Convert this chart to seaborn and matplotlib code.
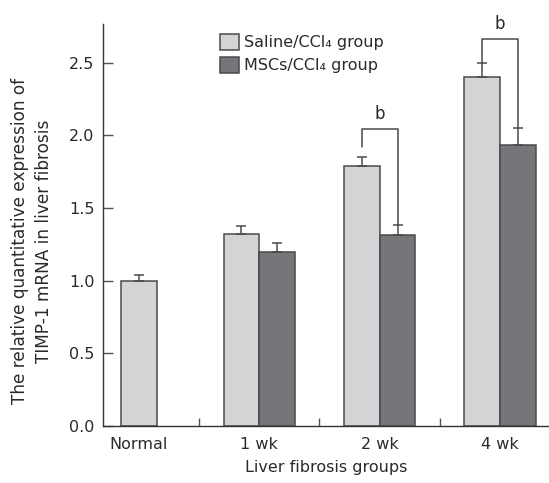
import numpy as np
import pandas as pd
import matplotlib
matplotlib.use("Agg")
import matplotlib.pyplot as plt
import seaborn as sns
from matplotlib.ticker import FixedLocator

# Group labels and series
groups = ["Normal", "1 wk", "2 wk", "4 wk"]
saline_mean = [1.00, 1.32, 1.79, 2.40]
saline_err = [0.04, 0.055, 0.06, 0.095]
msc_groups = ["1 wk", "2 wk", "4 wk"]
msc_mean = [1.195, 1.315, 1.935]
msc_err = [0.065, 0.07, 0.115]
series_names = ["Saline/CCl\u2084 group", "MSCs/CCl\u2084 group"]
y_ticks = [0.0, 0.5, 1.0, 1.5, 2.0, 2.5]

sns.set_theme(style="white")
plt.rcParams["font.family"] = ["DejaVu Sans"]

light = "#d3d4d6"
dark = "#75767a"
edge = "#4a4a4a"
txt = "#2a2a2a"

fig = plt.figure(figsize=(5.49, 4.83), dpi=100)
ax = fig.add_axes([0.1876, 0.118, 0.8124, 0.832])

# Paired bars for the CCl4 time points
df = pd.DataFrame({
    "group": groups[1:] + msc_groups,
    "value": saline_mean[1:] + msc_mean,
    "series": [series_names[0]] * 3 + [series_names[1]] * 3,
})
sns.barplot(data=df, x="group", y="value", hue="series", order=groups,
            hue_order=series_names, palette=[light, dark], width=0.594,
            gap=0, errorbar=None, edgecolor=edge, linewidth=1.1,
            saturation=1, ax=ax)

# Single control bar, centred on its category
df_n = pd.DataFrame({"group": ["Normal"], "value": [saline_mean[0]]})
sns.barplot(data=df_n, x="group", y="value", order=groups, color=light,
            width=0.297, errorbar=None, edgecolor=edge, linewidth=1.1,
            saturation=1, ax=ax)

# Error bars (upper only) on each bar
half = 0.297 / 2
sal_x = [0.0] + [i - half for i in range(1, 4)]
msc_x = [i + half for i in range(1, 4)]
ax.errorbar(sal_x, saline_mean, yerr=[np.zeros(4), saline_err], fmt="none",
            ecolor=edge, elinewidth=1.1, capsize=3.6, capthick=1.1, zorder=1)
ax.errorbar(msc_x, msc_mean, yerr=[np.zeros(3), msc_err], fmt="none",
            ecolor=edge, elinewidth=1.1, capsize=3.6, capthick=1.1, zorder=1)

# Significance brackets
def bracket(i, y_left, y_right, y_top):
    xl, xr = sal_x[i], msc_x[i - 1]
    ax.plot([xl, xl, xr, xr], [y_left, y_top, y_top, y_right],
            color=edge, lw=1.1, clip_on=False)
    ax.text((xl + xr) / 2, y_top + 0.04, "b", ha="center", va="bottom",
            fontsize=12, color=txt)

bracket(2, saline_mean[2] + saline_err[2] + 0.07, msc_mean[1] + msc_err[1], 2.045)
bracket(3, saline_mean[3] + saline_err[3], msc_mean[2] + msc_err[2], 2.665)

ax.set_xlim(-0.299, 3.407)
ax.set_ylim(0, 2.765)
ax.set_yticks(y_ticks)
ax.set_yticklabels([f"{t:.1f}" for t in y_ticks])
ax.xaxis.set_minor_locator(FixedLocator([0.5, 1.5, 2.5]))

for s in ["top", "right"]:
    ax.spines[s].set_visible(False)
for s in ["left", "bottom"]:
    ax.spines[s].set_color("#333333")
    ax.spines[s].set_linewidth(1.0)

ax.tick_params(axis="y", direction="in", length=7, width=1, color="#555555",
               labelsize=11.5, labelcolor=txt, pad=6, left=True)
ax.tick_params(axis="x", which="major", length=0, labelsize=11.5,
               labelcolor=txt, pad=8)
ax.tick_params(axis="x", which="minor", direction="in", length=6, width=1,
               color="#555555", bottom=True)

ax.set_xlabel("Liver fibrosis groups", fontsize=11.5, color=txt, labelpad=6)
ax.set_ylabel("The relative quantitative expression of\nTIMP-1 mRNA in liver fibrosis",
              fontsize=12.2, color=txt, linespacing=1.45)
ax.yaxis.set_label_coords(-0.112, 0.46)

leg = ax.legend(loc="upper left", bbox_to_anchor=(0.24, 1.0), frameon=False,
                fontsize=11.5, handlelength=1.2, handleheight=1.2,
                handletextpad=0.3, labelspacing=0.4, borderaxespad=0.2)
for t in leg.get_texts():
    t.set_color(txt)

fig.savefig("out.png", dpi=100)
